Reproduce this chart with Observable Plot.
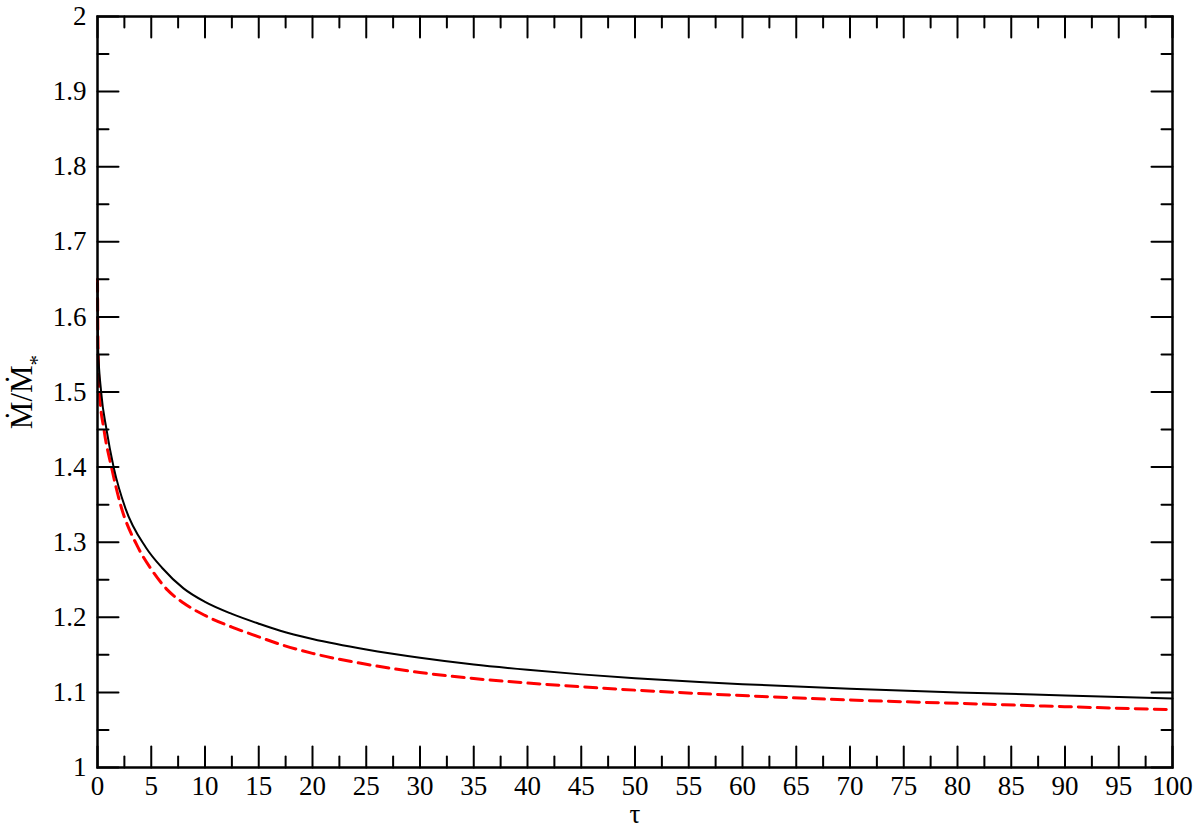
<!DOCTYPE html>
<html>
<head>
<meta charset="utf-8">
<script src="https://cdn.jsdelivr.net/npm/d3@7"></script>
<script src="https://cdn.jsdelivr.net/npm/@observablehq/plot@0.6"></script>
<style>
  html, body { margin: 0; padding: 0; background: white; }
  #chart { width: 1200px; height: 830px; }
  #chart svg, #chart svg text { font-family: 'Liberation Serif', 'DejaVu Serif', serif; }
</style>
</head>
<body>
<div id="chart"></div>
<script>
// ---- Data ----
const tauBlack = [0, 0.05, 0.34, 0.84, 1.5, 2.6, 4.5, 6, 8, 10, 12.5, 15, 17, 20, 25, 30, 35, 40, 45, 50, 56, 60, 70, 80, 90, 100];
const mdotBlack = [1.645, 1.56, 1.50, 1.45, 1.40, 1.345, 1.293, 1.266, 1.2385, 1.2205, 1.2045, 1.1915, 1.182, 1.171, 1.157, 1.146, 1.137, 1.130, 1.124, 1.119, 1.114, 1.111, 1.105, 1.100, 1.096, 1.092];

const tauRed = [0, 0.05, 0.18, 0.6, 1.3, 2.14, 3.7, 5, 6.5, 8, 10, 12.5, 15, 17, 20, 25, 30, 35, 40, 45, 50, 56, 60, 70, 80, 90, 100];
const mdotRed = [1.65, 1.56, 1.50, 1.45, 1.40, 1.35, 1.295, 1.264, 1.2365, 1.219, 1.2025, 1.187, 1.174, 1.164, 1.152, 1.1375, 1.1265, 1.1185, 1.1125, 1.1075, 1.103, 1.0985, 1.0958, 1.0898, 1.0855, 1.081, 1.077];

const xTickValues = [0, 5, 10, 15, 20, 25, 30, 35, 40, 45, 50, 55, 60, 65, 70, 75, 80, 85, 90, 95, 100];
const xTickLabels = ["0", "5", "10", "15", "20", "25", "30", "35", "40", "45", "50", "55", "60", "65", "70", "75", "80", "85", "90", "95", "100"];
const xMinorValues = [2.5, 7.5, 12.5, 17.5, 22.5, 27.5, 32.5, 37.5, 42.5, 47.5, 52.5, 57.5, 62.5, 67.5, 72.5, 77.5, 82.5, 87.5, 92.5, 97.5];
const yTickValues = [1, 1.1, 1.2, 1.3, 1.4, 1.5, 1.6, 1.7, 1.8, 1.9, 2];
const yTickLabels = ["1", "1.1", "1.2", "1.3", "1.4", "1.5", "1.6", "1.7", "1.8", "1.9", "2"];
const yMinorValues = [1.05, 1.15, 1.25, 1.35, 1.45, 1.55, 1.65, 1.75, 1.85, 1.95];

const xTitle = "τ";
const yTitle = "Ṁ/Ṁ*";

// ---- Build tables ----
const black = tauBlack.map((t, i) => ({tau: t, v: mdotBlack[i]}));
const red = tauRed.map((t, i) => ({tau: t, v: mdotRed[i]}));
const xTicks = xTickValues.map((v, i) => ({v, label: xTickLabels[i]}));
const yTicks = yTickValues.map((v, i) => ({v, label: yTickLabels[i]}));

const X0 = 0, X1 = 100, Y0 = 1, Y1 = 2;
const MAJOR = 21, MINOR = 11;
const lineShape = {draw(context, l) { context.moveTo(0, 0); context.lineTo(0, -l); }};
const tickOpts = {anchor: "start", shape: lineShape, stroke: "black", strokeWidth: 2};

const font = "'Liberation Serif', 'DejaVu Serif', serif";
const txt = {fontSize: 27, fontFamily: font, fill: "black", lineAnchor: "middle"};

const chart = Plot.plot({
  width: 1200,
  height: 830,
  marginLeft: 97,
  marginRight: 28,
  marginTop: 16,
  marginBottom: 63,
  style: `font-family: ${font}; background: white; color: black;`,
  x: {domain: [X0, X1], axis: null},
  y: {domain: [Y0, Y1], axis: null},
  marks: [
    // data lines
    Plot.line(red, {x: "tau", y: "v", stroke: "#ff0000", strokeWidth: 3, strokeDasharray: "12,7", curve: "monotone-x"}),
    Plot.line(black, {x: "tau", y: "v", stroke: "black", strokeWidth: 2, curve: "monotone-x"}),
    // inward ticks, all four sides
    Plot.vector(xTickValues, {x: d => d, y: Y0, length: MAJOR, rotate: 0, ...tickOpts}),
    Plot.vector(xMinorValues, {x: d => d, y: Y0, length: MINOR, rotate: 0, ...tickOpts}),
    Plot.vector(xTickValues, {x: d => d, y: Y1, length: MAJOR, rotate: 180, ...tickOpts}),
    Plot.vector(xMinorValues, {x: d => d, y: Y1, length: MINOR, rotate: 180, ...tickOpts}),
    Plot.vector(yTickValues, {x: X0, y: d => d, length: MAJOR, rotate: 90, ...tickOpts}),
    Plot.vector(yMinorValues, {x: X0, y: d => d, length: MINOR, rotate: 90, ...tickOpts}),
    Plot.vector(yTickValues, {x: X1, y: d => d, length: MAJOR, rotate: 270, ...tickOpts}),
    Plot.vector(yMinorValues, {x: X1, y: d => d, length: MINOR, rotate: 270, ...tickOpts}),
    // tick labels
    Plot.text(xTicks, {x: "v", y: Y0, text: "label", dy: 19, textAnchor: "middle", ...txt}),
    Plot.text(yTicks, {x: X0, y: "v", text: "label", dx: -11, textAnchor: "end", ...txt}),
    // axis titles
    Plot.text([xTitle], {x: (X0 + X1) / 2, y: Y0, text: d => d, dy: 47, textAnchor: "middle", ...txt}),
    Plot.text([yTitle], {x: X0, y: 1.5, text: d => d, dx: -75, rotate: -90, textAnchor: "middle", ...txt, fontSize: 31}),
    // frame
    Plot.frame({stroke: "black", strokeWidth: 2.5})
  ]
});

// subscript asterisk in the y title
chart.querySelectorAll("text").forEach(t => {
  if (t.textContent === yTitle) {
    t.textContent = "";
    t.appendChild(document.createTextNode("Ṁ/Ṁ"));
    const ts = document.createElementNS("http://www.w3.org/2000/svg", "tspan");
    ts.setAttribute("baseline-shift", "sub");
    ts.setAttribute("font-size", "21");
    ts.textContent = "*";
    t.appendChild(ts);
  }
});

document.getElementById("chart").appendChild(chart);
</script>
</body>
</html>
